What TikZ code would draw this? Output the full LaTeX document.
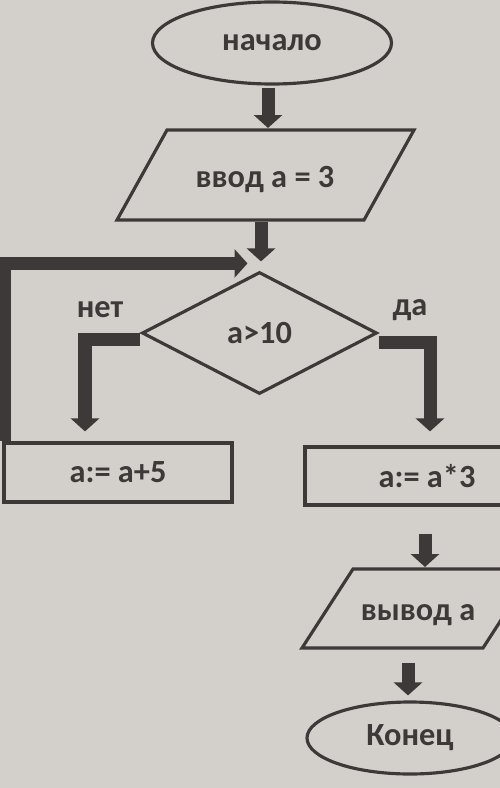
\documentclass[tikz,border=0pt]{standalone}
\usepackage{fontspec}
\setmainfont{Carlito}
\usetikzlibrary{arrows.meta,shapes.geometric}

\definecolor{paper}{RGB}{211,207,202}
\definecolor{ink}{RGB}{62,57,57}

\tikzset{
  block/.style={draw=ink, line width=0.9pt, inner sep=0pt, font=\fontsize{9.2}{11}\selectfont\bfseries, text=ink},
  lbl/.style={font=\fontsize{9.2}{11}\selectfont\bfseries, text=ink, inner sep=0pt},
  flow/.style={draw=ink, line width=0.13cm, -{Triangle[width=0.28cm,length=0.13cm]}},
}

\begin{document}
\begin{tikzpicture}
        \fill[paper] (0,0) rectangle (5,-7.88);
        \useasboundingbox (0,0) rectangle (5,-7.88);

        % начало
        \node[block, ellipse, minimum width=2.39cm, minimum height=0.82cm] (start) at (2.72,-0.43) {начало};

        % ввод
        \draw[draw=ink, line width=0.9pt] (1.17,-2.20) -- (3.64,-2.20) -- (4.14,-1.30) -- (1.67,-1.30) -- cycle;
        \coordinate (in1n) at (2.68,-1.30);
        \coordinate (in1s) at (2.61,-2.20);
        \node[lbl] (in1) at (2.65,-1.80) {ввод a = 3};

        % условие
        \node[block, diamond, minimum width=2.35cm, minimum height=1.22cm] (cond) at (2.595,-3.33) {a>10};
        \node[lbl] (no) at (1.00,-3.10) {нет};
        \node[lbl] (yes) at (4.10,-3.10) {да};

        % присваивания
        \node[block, rectangle, minimum width=2.28cm, minimum height=0.59cm] (a5) at (1.18,-4.725) {a:= a+5};
        \node[block, rectangle, minimum width=2.44cm, minimum height=0.58cm] (a3) at (4.27,-4.76) {a:= a*3};

        % вывод
        \draw[draw=ink, line width=0.9pt] (3.02,-6.48) -- (4.83,-6.48) -- (5.34,-5.69) -- (3.53,-5.69) -- cycle;
        \coordinate (outn) at (4.25,-5.69);
        \coordinate (outs) at (4.08,-6.48);
        \node[lbl] (out) at (4.18,-6.15) {вывод а};

        % конец
        \node[block, ellipse, minimum width=2.06cm, minimum height=0.72cm] (end) at (4.10,-7.38) {Конец};

        % стрелки
        \draw[flow] ([yshift=-0.02cm]start.south -| in1n) -- ([yshift=0.02cm]in1n);
        \draw[flow] ([yshift=-0.02cm]in1s) -- ([yshift=0.09cm]cond.north -| in1s);
        \draw[flow] ([yshift=-0.06cm]cond.west) -| ([xshift=-0.33cm, yshift=0.10cm]a5.north);
        \draw[flow] ([yshift=-0.09cm]cond.east) -| ([xshift=0.03cm, yshift=0.14cm]a3.north);
        \draw[flow] ([xshift=0.025cm]a5.north west) |- ([xshift=-0.12cm, yshift=0.07cm]cond.north);
        \draw[flow] ([yshift=-0.27cm]a3.south -| outn) -- ([yshift=0.02cm]outn);
        \draw[flow] ([yshift=-0.15cm]outs) -- ([yshift=0.05cm]end.north -| outs);

    \end{tikzpicture}
\end{document}
